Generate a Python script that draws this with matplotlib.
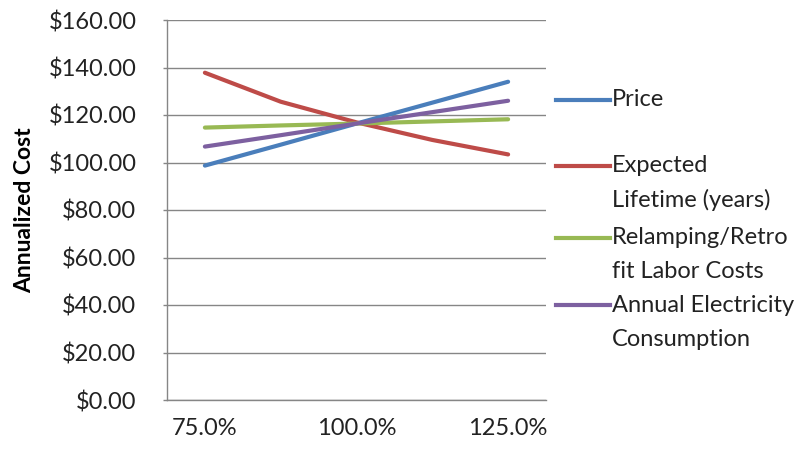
import matplotlib
matplotlib.use("Agg")
import matplotlib.pyplot as plt
from matplotlib.lines import Line2D

plt.rcParams['font.family'] = ['Lato', 'DejaVu Sans']

categories = ["75.0%", "87.5%", "100.0%", "112.5%", "125.0%"]
tick_labels = ["75.0%", "", "100.0%", "", "125.0%"]
price = [98.7, 107.5, 116.4, 125.2, 134.0]
lifetime = [137.8, 125.6, 116.9, 109.5, 103.4]
labor = [114.7, 115.6, 116.4, 117.3, 118.2]
electricity = [106.7, 111.5, 116.4, 121.2, 126.0]
series_names = ["Price", "Expected\nLifetime (years)", "Relamping/Retro\nfit Labor Costs",
                "Annual Electricity\nConsumption"]
colors = ["#4A7EBB", "#BE4B48", "#98B954", "#7D60A0"]
yticks = [0, 20, 40, 60, 80, 100, 120, 140, 160]

FS = 17
fig = plt.figure(figsize=(8.05, 4.5), dpi=100)
ax = fig.add_axes([167/805, 1-400/450, (546-167)/805, 380/450])

x = list(range(len(categories)))
for vals, c in zip([price, lifetime, labor, electricity], colors):
    ax.plot(x, vals, color=c, lw=3.0, solid_capstyle='round', zorder=3)

ax.set_xlim(-0.5, len(categories) - 0.5)
ax.set_ylim(0, 160)
ax.set_yticks(yticks)
ax.set_yticklabels([f"${v:.2f}" for v in yticks], fontsize=FS, color="#222222")
ax.set_xticks(x)
ax.set_xticklabels(tick_labels, fontsize=FS, color="#222222")
ax.tick_params(axis='x', length=0, pad=13)
ax.tick_params(axis='y', length=3, width=1, color="#868686", pad=19)
ax.grid(axis='y', color="#868686", lw=1)
ax.set_axisbelow(True)
for s in ['top', 'right']:
    ax.spines[s].set_visible(False)
for s in ['left', 'bottom']:
    ax.spines[s].set_color("#868686")
    ax.spines[s].set_linewidth(1)
ax.set_ylabel("Annualized Cost", fontsize=16.5, fontweight='bold')
ax.yaxis.set_label_coords(-(167-35)/379, 0.5)

# legend drawn manually (Excel style: handle aligned with first text line)
leg_y = [100, 166, 238, 305]
line_gap = 34
for name, c, yp in zip(series_names, colors, leg_y):
    yf = 1 - yp/450
    fig.add_artist(Line2D([556/805, 610/805], [yf, yf], color=c, lw=3.0,
                          transform=fig.transFigure))
    for i, part in enumerate(name.split("\n")):
        fig.text(612/805, 1 - (yp + i*line_gap)/450, part, fontsize=FS,
                 color="#222222", va='center', ha='left')

fig.savefig("out.png", dpi=100)
